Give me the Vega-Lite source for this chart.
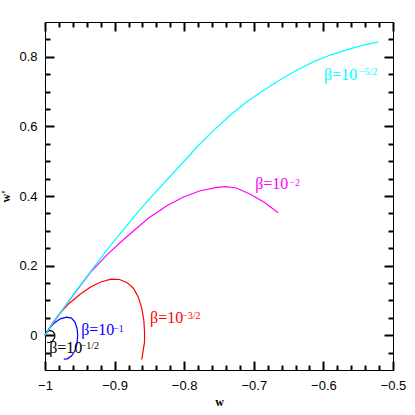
{
  "$schema": "https://vega.github.io/schema/vega-lite/v6.json",
  "width": 348,
  "height": 348,
  "autosize": "none",
  "padding": {"left": 45, "top": 22, "right": 22, "bottom": 45},
  "background": "white",
  "config": {
    "view": {"stroke": "black", "strokeWidth": 1},
    "axis": {"domain": false, "grid": false, "labelFont": "Liberation Sans", "labelFontSize": 13, "labelColor": "black", "labelFlush": false, "labelOverlap": false, "labelBound": false, "format": "~g"}
  },
  "datasets": {
    "curves": [
      {"s": "s15", "i": 0, "w": -1, "wp": 0},
      {"s": "s15", "i": 1, "w": -0.99, "wp": 0.032},
      {"s": "s15", "i": 2, "w": -0.98, "wp": 0.06},
      {"s": "s15", "i": 3, "w": -0.965, "wp": 0.092},
      {"s": "s15", "i": 4, "w": -0.95, "wp": 0.117},
      {"s": "s15", "i": 5, "w": -0.935, "wp": 0.138},
      {"s": "s15", "i": 6, "w": -0.92, "wp": 0.153},
      {"s": "s15", "i": 7, "w": -0.905, "wp": 0.161},
      {"s": "s15", "i": 8, "w": -0.893, "wp": 0.16},
      {"s": "s15", "i": 9, "w": -0.882, "wp": 0.151},
      {"s": "s15", "i": 10, "w": -0.873, "wp": 0.135},
      {"s": "s15", "i": 11, "w": -0.866, "wp": 0.11},
      {"s": "s15", "i": 12, "w": -0.861, "wp": 0.078},
      {"s": "s15", "i": 13, "w": -0.858, "wp": 0.043},
      {"s": "s15", "i": 14, "w": -0.857, "wp": 0.01},
      {"s": "s15", "i": 15, "w": -0.857, "wp": -0.02},
      {"s": "s15", "i": 16, "w": -0.859, "wp": -0.045},
      {"s": "s15", "i": 17, "w": -0.861, "wp": -0.07},
      {"s": "s20", "i": 0, "w": -1, "wp": 0},
      {"s": "s20", "i": 1, "w": -0.985, "wp": 0.044},
      {"s": "s20", "i": 2, "w": -0.97, "wp": 0.086},
      {"s": "s20", "i": 3, "w": -0.95, "wp": 0.14},
      {"s": "s20", "i": 4, "w": -0.935, "wp": 0.18},
      {"s": "s20", "i": 5, "w": -0.91, "wp": 0.233},
      {"s": "s20", "i": 6, "w": -0.887, "wp": 0.275},
      {"s": "s20", "i": 7, "w": -0.865, "wp": 0.313},
      {"s": "s20", "i": 8, "w": -0.849, "wp": 0.34},
      {"s": "s20", "i": 9, "w": -0.825, "wp": 0.372},
      {"s": "s20", "i": 10, "w": -0.801, "wp": 0.397},
      {"s": "s20", "i": 11, "w": -0.777, "wp": 0.415},
      {"s": "s20", "i": 12, "w": -0.753, "wp": 0.425},
      {"s": "s20", "i": 13, "w": -0.74, "wp": 0.427},
      {"s": "s20", "i": 14, "w": -0.725, "wp": 0.423},
      {"s": "s20", "i": 15, "w": -0.705, "wp": 0.405},
      {"s": "s20", "i": 16, "w": -0.685, "wp": 0.382},
      {"s": "s20", "i": 17, "w": -0.665, "wp": 0.352},
      {"s": "s10", "i": 0, "w": -1, "wp": 0},
      {"s": "s10", "i": 1, "w": -0.993, "wp": 0.022},
      {"s": "s10", "i": 2, "w": -0.986, "wp": 0.036},
      {"s": "s10", "i": 3, "w": -0.978, "wp": 0.047},
      {"s": "s10", "i": 4, "w": -0.969, "wp": 0.052},
      {"s": "s10", "i": 5, "w": -0.962, "wp": 0.049},
      {"s": "s10", "i": 6, "w": -0.957, "wp": 0.038},
      {"s": "s10", "i": 7, "w": -0.954, "wp": 0.02},
      {"s": "s10", "i": 8, "w": -0.953, "wp": 0},
      {"s": "s10", "i": 9, "w": -0.954, "wp": -0.024},
      {"s": "s10", "i": 10, "w": -0.957, "wp": -0.045},
      {"s": "s10", "i": 11, "w": -0.962, "wp": -0.06},
      {"s": "s10", "i": 12, "w": -0.968, "wp": -0.068},
      {"s": "s10", "i": 13, "w": -0.973, "wp": -0.069},
      {"s": "s05", "i": 0, "w": -1, "wp": 0},
      {"s": "s05", "i": 1, "w": -0.997, "wp": 0.01},
      {"s": "s05", "i": 2, "w": -0.993, "wp": 0.014},
      {"s": "s05", "i": 3, "w": -0.989, "wp": 0.011},
      {"s": "s05", "i": 4, "w": -0.986, "wp": 0.003},
      {"s": "s05", "i": 5, "w": -0.986, "wp": -0.007},
      {"s": "s05", "i": 6, "w": -0.989, "wp": -0.016},
      {"s": "s05", "i": 7, "w": -0.993, "wp": -0.021},
      {"s": "s05", "i": 8, "w": -0.997, "wp": -0.021},
      {"s": "s25", "i": 0, "w": -1, "wp": 0},
      {"s": "s25", "i": 1, "w": -0.985, "wp": 0.045},
      {"s": "s25", "i": 2, "w": -0.97, "wp": 0.087},
      {"s": "s25", "i": 3, "w": -0.95, "wp": 0.142},
      {"s": "s25", "i": 4, "w": -0.93, "wp": 0.195},
      {"s": "s25", "i": 5, "w": -0.911, "wp": 0.245},
      {"s": "s25", "i": 6, "w": -0.89, "wp": 0.297},
      {"s": "s25", "i": 7, "w": -0.87, "wp": 0.345},
      {"s": "s25", "i": 8, "w": -0.85, "wp": 0.392},
      {"s": "s25", "i": 9, "w": -0.825, "wp": 0.446},
      {"s": "s25", "i": 10, "w": -0.806, "wp": 0.487},
      {"s": "s25", "i": 11, "w": -0.782, "wp": 0.54},
      {"s": "s25", "i": 12, "w": -0.758, "wp": 0.588},
      {"s": "s25", "i": 13, "w": -0.734, "wp": 0.632},
      {"s": "s25", "i": 14, "w": -0.71, "wp": 0.671},
      {"s": "s25", "i": 15, "w": -0.686, "wp": 0.704},
      {"s": "s25", "i": 16, "w": -0.662, "wp": 0.734},
      {"s": "s25", "i": 17, "w": -0.638, "wp": 0.762},
      {"s": "s25", "i": 18, "w": -0.614, "wp": 0.786},
      {"s": "s25", "i": 19, "w": -0.59, "wp": 0.805},
      {"s": "s25", "i": 20, "w": -0.567, "wp": 0.82},
      {"s": "s25", "i": 21, "w": -0.544, "wp": 0.833},
      {"s": "s25", "i": 22, "w": -0.521, "wp": 0.843}
    ],
    "labels": [
      {"s": "s25", "w": -0.599, "wp": 0.734, "t": "β=10"},
      {"s": "s20", "w": -0.698, "wp": 0.419, "t": "β=10"},
      {"s": "s15", "w": -0.849, "wp": 0.034, "t": "β=10"},
      {"s": "s10", "w": -0.948, "wp": 0.0, "t": "β=10"},
      {"s": "s05", "w": -0.994, "wp": -0.052, "t": "β=10"}
    ],
    "sups": [
      {"s": "s25", "w": -0.549, "wp": 0.748, "t": "−5/2"},
      {"s": "s20", "w": -0.649, "wp": 0.429, "t": "−2"},
      {"s": "s15", "w": -0.803, "wp": 0.047, "t": "−3/2"},
      {"s": "s10", "w": -0.902, "wp": 0.0095, "t": "−1"},
      {"s": "s05", "w": -0.949, "wp": -0.04, "t": "−1/2"}
    ]
  },
  "layer": [
    {
      "data": {"name": "curves"},
      "mark": {"type": "line", "strokeWidth": 1.2},
      "encoding": {
        "x": {"field": "w", "type": "quantitative", "scale": {"domain": [-1, -0.5], "nice": false, "zero": false},
          "axis": {"orient": "bottom", "values": [-1, -0.9, -0.8, -0.7, -0.6, -0.5], "ticks": false, "labelPadding": 9, "title": "w", "titleFont": "Liberation Serif", "titleFontSize": 12, "titleFontWeight": "bold", "titlePadding": 4}},
        "y": {"field": "wp", "type": "quantitative", "scale": {"domain": [-0.1, 0.9], "nice": false, "zero": false},
          "axis": {"orient": "left", "values": [0, 0.2, 0.4, 0.6, 0.8], "ticks": false, "labelPadding": 8, "title": "w'", "titleFont": "Liberation Serif", "titleFontSize": 12, "titleFontWeight": "bold", "titlePadding": 6}},
        "color": {"field": "s", "type": "nominal", "scale": {"domain": ["s25", "s20", "s15", "s10", "s05"], "range": ["#00ffff", "#ff00ff", "#ff0000", "#0000ff", "#000000"]}, "legend": null},
        "strokeWidth": {"field": "s", "type": "ordinal", "scale": {"domain": ["s25", "s20", "s15", "s10", "s05"], "range": [1.2, 1.2, 1.3, 1.8, 1.4]}, "legend": null},
        "order": {"field": "i", "type": "quantitative"}
      }
    },
    {
      "data": {"name": "labels"},
      "mark": {"type": "text", "align": "left", "baseline": "alphabetic", "font": "Liberation Serif"},
      "encoding": {
        "x": {"field": "w", "type": "quantitative", "scale": {"domain": [-1, -0.5], "nice": false, "zero": false},
          "axis": {"orient": "bottom", "values": [-1, -0.9, -0.8, -0.7, -0.6, -0.5], "labels": false, "ticks": true, "tickColor": "black", "tickWidth": 2, "offset": -9, "tickSize": 9, "title": null}},
        "y": {"field": "wp", "type": "quantitative", "scale": {"domain": [-0.1, 0.9], "nice": false, "zero": false},
          "axis": {"orient": "left", "values": [0, 0.2, 0.4, 0.6, 0.8], "labels": false, "ticks": true, "tickColor": "black", "tickWidth": 2, "offset": -9, "tickSize": 9, "title": null}},
        "text": {"field": "t"},
        "color": {"field": "s", "type": "nominal", "scale": {"domain": ["s25", "s20", "s15", "s10", "s05"], "range": ["#00ffff", "#ff00ff", "#ff0000", "#0000ff", "#000000"]}, "legend": null},
        "size": {"field": "s", "type": "ordinal", "scale": {"domain": ["s25", "s20", "s15", "s10", "s05"], "range": [16, 16, 15, 13, 12.5]}, "legend": null}
      }
    },
    {
      "data": {"name": "sups"},
      "mark": {"type": "text", "align": "left", "baseline": "alphabetic", "font": "Liberation Serif"},
      "encoding": {
        "x": {"field": "w", "type": "quantitative", "scale": {"domain": [-1, -0.5], "nice": false, "zero": false},
          "axis": {"orient": "bottom", "values": [-0.98, -0.96, -0.94, -0.92, -0.88, -0.86, -0.84, -0.82, -0.78, -0.76, -0.74, -0.72, -0.68, -0.66, -0.64, -0.62, -0.58, -0.56, -0.54, -0.52], "labels": false, "ticks": true, "tickColor": "black", "tickWidth": 2, "offset": -5, "tickSize": 5, "title": null}},
        "y": {"field": "wp", "type": "quantitative", "scale": {"domain": [-0.1, 0.9], "nice": false, "zero": false},
          "axis": {"orient": "left", "values": [-0.05, 0.05, 0.1, 0.15, 0.25, 0.3, 0.35, 0.45, 0.5, 0.55, 0.65, 0.7, 0.75, 0.85], "labels": false, "ticks": true, "tickColor": "black", "tickWidth": 2, "offset": -5, "tickSize": 5, "title": null}},
        "text": {"field": "t"},
        "color": {"field": "s", "type": "nominal", "scale": {"domain": ["s25", "s20", "s15", "s10", "s05"], "range": ["#00ffff", "#ff00ff", "#ff0000", "#0000ff", "#000000"]}, "legend": null},
        "size": {"field": "s", "type": "ordinal", "scale": {"domain": ["s25", "s20", "s15", "s10", "s05"], "range": [10, 10, 10, 9.5, 9.5]}, "legend": null}
      }
    },
    {
      "data": {"name": "curves"},
      "mark": {"type": "point", "opacity": 0},
      "encoding": {
        "x": {"field": "w", "type": "quantitative", "scale": {"domain": [-1, -0.5], "nice": false, "zero": false},
          "axis": {"orient": "top", "values": [-1, -0.9, -0.8, -0.7, -0.6, -0.5], "labels": false, "ticks": true, "tickColor": "black", "tickWidth": 2, "offset": -9, "tickSize": 9, "title": null}},
        "y": {"field": "wp", "type": "quantitative", "scale": {"domain": [-0.1, 0.9], "nice": false, "zero": false},
          "axis": {"orient": "right", "values": [0, 0.2, 0.4, 0.6, 0.8], "labels": false, "ticks": true, "tickColor": "black", "tickWidth": 2, "offset": -9, "tickSize": 9, "title": null}}
      }
    },
    {
      "data": {"name": "curves"},
      "mark": {"type": "point", "opacity": 0},
      "encoding": {
        "x": {"field": "w", "type": "quantitative", "scale": {"domain": [-1, -0.5], "nice": false, "zero": false},
          "axis": {"orient": "top", "values": [-0.98, -0.96, -0.94, -0.92, -0.88, -0.86, -0.84, -0.82, -0.78, -0.76, -0.74, -0.72, -0.68, -0.66, -0.64, -0.62, -0.58, -0.56, -0.54, -0.52], "labels": false, "ticks": true, "tickColor": "black", "tickWidth": 2, "offset": -5, "tickSize": 5, "title": null}},
        "y": {"field": "wp", "type": "quantitative", "scale": {"domain": [-0.1, 0.9], "nice": false, "zero": false},
          "axis": {"orient": "right", "values": [-0.05, 0.05, 0.1, 0.15, 0.25, 0.3, 0.35, 0.45, 0.5, 0.55, 0.65, 0.7, 0.75, 0.85], "labels": false, "ticks": true, "tickColor": "black", "tickWidth": 2, "offset": -5, "tickSize": 5, "title": null}}
      }
    }
  ],
  "resolve": {"axis": {"x": "independent", "y": "independent"}, "scale": {"size": "independent"}}
}
